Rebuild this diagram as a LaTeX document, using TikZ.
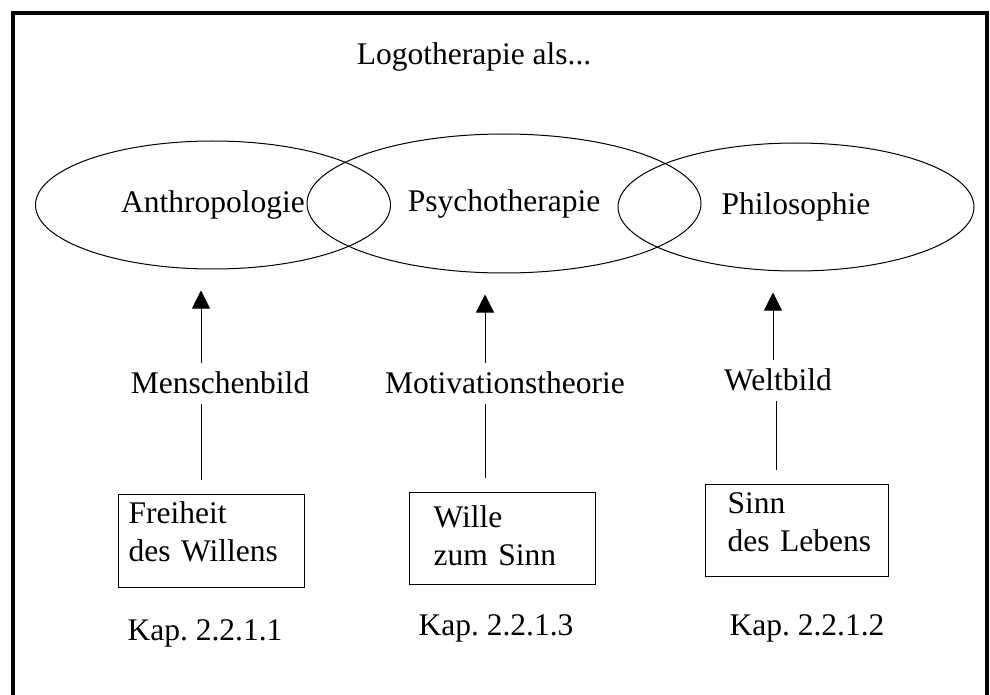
\documentclass[tikz,border=0pt]{standalone}
\usepackage{fontspec}
\setmainfont{Liberation Serif}
\usetikzlibrary{arrows.meta,shapes.geometric}
\frenchspacing

\begin{document}
\begin{tikzpicture}[
    x=0.5pt, y=-0.5pt,
    font=\fontsize{15.75}{19}\selectfont,
    field/.style={draw, ellipse, line width=0.5pt, inner sep=0pt},
    tag/.style={anchor=base, inner sep=0pt, text height=0.7em, text depth=0.25em},
    box/.style={draw, anchor=north west, align=left, line width=0.6pt,
      inner ysep=0pt},
    arrow/.style={-{Triangle[length=9pt, width=9pt]}, line width=0.5pt},
    link/.style={line width=0.5pt}
  ]
  \useasboundingbox (0,0) rectangle (990,695);
  \draw[line width=2pt] (13,720) -- (13,13) -- (986.5,13) -- (986.5,720);

  \node[tag] (title) at (474,65) {Logotherapie als...};

  \node[field, minimum width=177.5pt, minimum height=64pt] (anthro)
    at (213,205) {Anthropologie};
  \node[field, minimum width=197pt, minimum height=69.5pt] (psycho)
    at (504,203.5) {Psychotherapie};
  \node[field, minimum width=178pt, minimum height=64pt] (philo)
    at (796,207) {Philosophie};

  \node[tag] (mensch) at (220,393) {Menschenbild};
  \node[tag] (motiv) at (505,393) {Motivationstheorie};
  \node[tag] (welt) at (778,390) {Weltbild};

  \node[box, inner xsep=5pt, text width=83pt, text height=14.5pt,
    text depth=32pt] (freiheit) at (118,494) {Freiheit\\des Willens};
  \node[box, inner xsep=12pt, text width=69pt, text height=17.5pt,
    text depth=28.5pt] (wille) at (409,492) {Wille\\zum Sinn};
  \node[box, inner xsep=8pt, text width=75.5pt, text height=14.5pt,
    text depth=31.5pt] (sinn) at (705,484) {\hspace*{3pt}Sinn\\\hspace*{3pt}des Lebens};

  \node[tag] (kap1) at (205,640) {Kap. 2.2.1.1};
  \node[tag] (kap3) at (496,635) {Kap. 2.2.1.3};
  \node[tag] (kap2) at (807,635) {Kap. 2.2.1.2};

  \coordinate (col1) at (201,0);
  \coordinate (col2) at (485,0);
  \coordinate (col3) at (773,0);
  \coordinate (col3b) at (776,0);

  \draw[arrow, shorten <=8pt, shorten >=10.5pt] (mensch.north -| col1) -- (anthro.south -| col1);
  \draw[arrow, shorten <=8pt, shorten >=10.5pt] (motiv.north -| col2) -- (psycho.south -| col2);
  \draw[arrow, shorten <=8pt, shorten >=10.5pt] (welt.north -| col3) -- (philo.south -| col3);
  \draw[link, shorten <=7pt, shorten >=3pt] (freiheit.north -| col1) -- (mensch.south -| col1);
  \draw[link, shorten <=7pt, shorten >=3pt] (wille.north -| col2) -- (motiv.south -| col2);
  \draw[link, shorten <=7pt, shorten >=3pt] (sinn.north -| col3b) -- (welt.south -| col3b);
\end{tikzpicture}
\end{document}
